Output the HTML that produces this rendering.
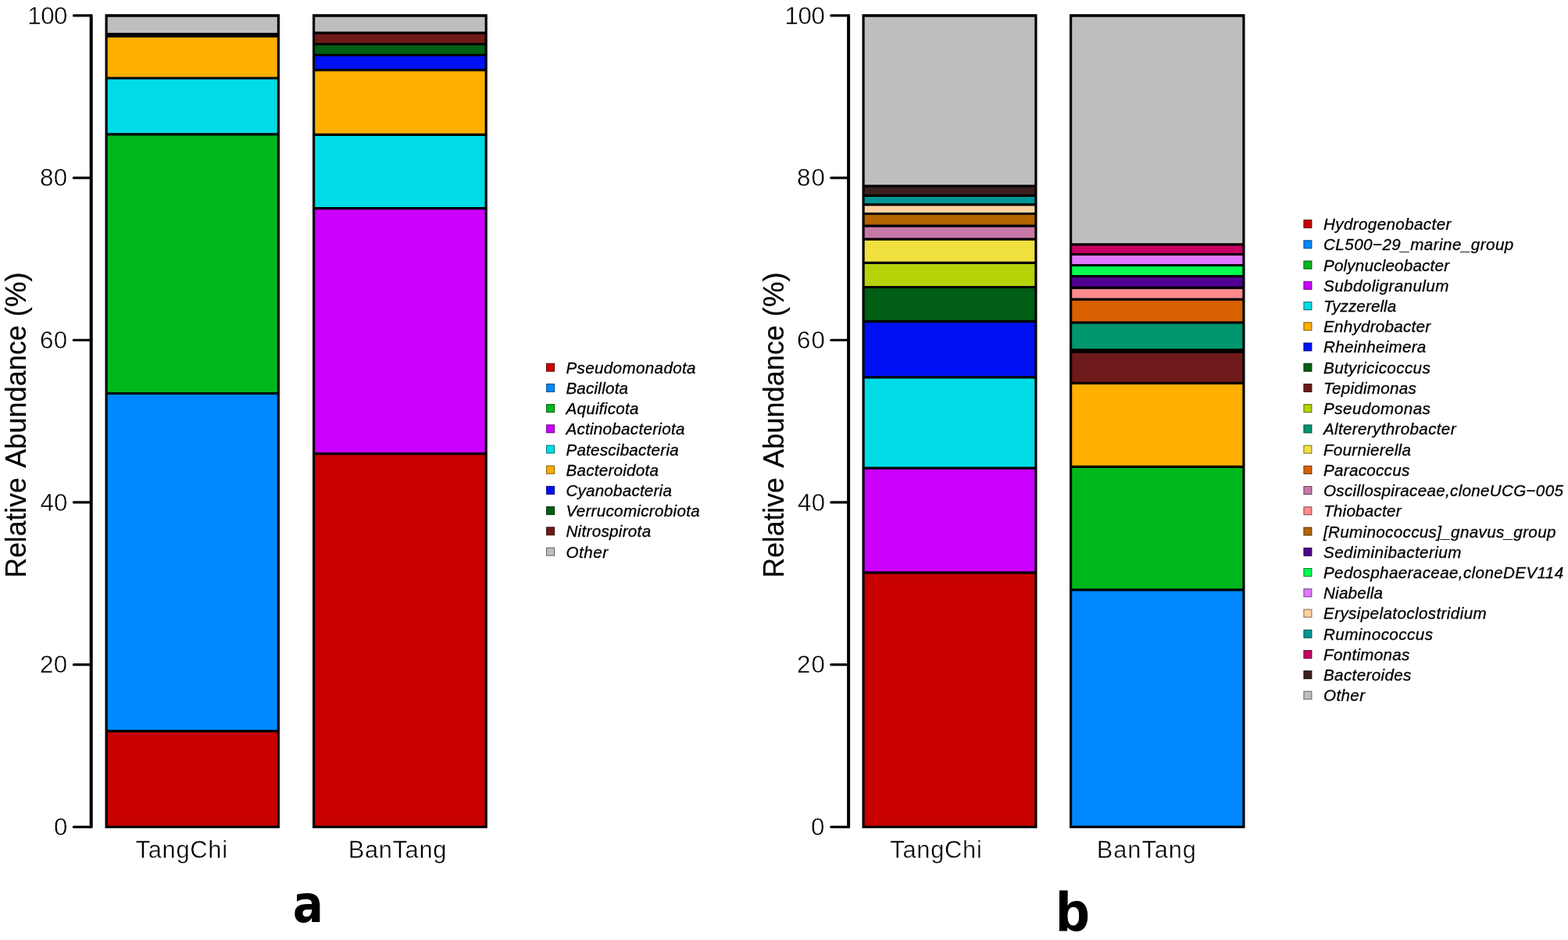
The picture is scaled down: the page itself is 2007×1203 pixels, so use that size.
<!DOCTYPE html>
<html lang="en">
<head>
<meta charset="utf-8">
<title>Relative abundance of bacterial phyla and genera in TangChi and BanTang</title>
<style>
html,body{margin:0;padding:0;background:#fff;}
body{width:2007px;height:1203px;overflow:hidden;}
svg{display:block;}
text{font-family:"Liberation Sans", Arial, Helvetica, sans-serif;fill:#000;}
.tk{font-size:31.3px;paint-order:fill stroke;stroke:#fff;stroke-width:0.4px;}
.xl{font-size:30.8px;paint-order:fill stroke;stroke:#fff;stroke-width:0.4px;}
.yl{font-size:37.7px;stroke:#000;stroke-width:0.2px;}
.lg{font-size:20.6px;font-style:italic;stroke:#000;stroke-width:0.3px;}
.pn{font-weight:bold;stroke:#000;stroke-width:1px;stroke-linejoin:round;}
.seg{stroke:#000;stroke-width:3.2;stroke-linejoin:miter;stroke-linecap:butt;fill:none;}
.ax{stroke:#000;fill:none;stroke-linecap:round;stroke-linejoin:round;}
</style>
</head>
<body>
<svg width="2007" height="1203" viewBox="0 0 2007 1203">
<rect x="0" y="0" width="2007" height="1203" fill="#ffffff"/>

<g id="bar1">
<rect x="136.10" y="935.70" width="220.30" height="122.60" fill="#C80000"/>
<rect x="136.10" y="503.50" width="220.30" height="432.20" fill="#0088FF"/>
<rect x="136.10" y="171.90" width="220.30" height="331.60" fill="#00B81C"/>
<rect x="136.10" y="100.00" width="220.30" height="71.90" fill="#00DCE6"/>
<rect x="136.10" y="46.40" width="220.30" height="53.60" fill="#FFB000"/>
<rect x="136.10" y="43.60" width="220.30" height="2.80" fill="#0010F5"/>
<rect x="136.10" y="19.90" width="220.30" height="23.70" fill="#BEBEBE"/>
<line class="seg" x1="136.10" y1="935.70" x2="356.40" y2="935.70"/>
<line class="seg" x1="136.10" y1="503.50" x2="356.40" y2="503.50"/>
<line class="seg" x1="136.10" y1="171.90" x2="356.40" y2="171.90"/>
<line class="seg" x1="136.10" y1="100.00" x2="356.40" y2="100.00"/>
<line class="seg" x1="136.10" y1="46.40" x2="356.40" y2="46.40"/>
<line class="seg" x1="136.10" y1="43.60" x2="356.40" y2="43.60"/>
<rect class="seg" x="136.10" y="19.90" width="220.30" height="1038.40" stroke-linejoin="round"/>
<line class="seg" x1="135.30" y1="20.00" x2="357.20" y2="20.00" stroke-width="3.9"/>
</g>
<g id="bar2">
<rect x="401.60" y="580.60" width="220.60" height="477.70" fill="#C80000"/>
<rect x="401.60" y="266.70" width="220.60" height="313.90" fill="#CC00FF"/>
<rect x="401.60" y="172.30" width="220.60" height="94.40" fill="#00DCE6"/>
<rect x="401.60" y="89.70" width="220.60" height="82.60" fill="#FFB000"/>
<rect x="401.60" y="70.50" width="220.60" height="19.20" fill="#0010F5"/>
<rect x="401.60" y="56.50" width="220.60" height="14.00" fill="#005F14"/>
<rect x="401.60" y="42.20" width="220.60" height="14.30" fill="#6E1A1A"/>
<rect x="401.60" y="19.90" width="220.60" height="22.30" fill="#BEBEBE"/>
<line class="seg" x1="401.60" y1="580.60" x2="622.20" y2="580.60"/>
<line class="seg" x1="401.60" y1="266.70" x2="622.20" y2="266.70"/>
<line class="seg" x1="401.60" y1="172.30" x2="622.20" y2="172.30"/>
<line class="seg" x1="401.60" y1="89.70" x2="622.20" y2="89.70"/>
<line class="seg" x1="401.60" y1="70.50" x2="622.20" y2="70.50"/>
<line class="seg" x1="401.60" y1="56.50" x2="622.20" y2="56.50"/>
<line class="seg" x1="401.60" y1="42.20" x2="622.20" y2="42.20"/>
<rect class="seg" x="401.60" y="19.90" width="220.60" height="1038.40" stroke-linejoin="round"/>
<line class="seg" x1="400.80" y1="20.00" x2="623.00" y2="20.00" stroke-width="3.9"/>
</g>
<g id="bar3">
<rect x="1105.10" y="732.80" width="220.80" height="325.50" fill="#C80000"/>
<rect x="1105.10" y="599.20" width="220.80" height="133.60" fill="#CC00FF"/>
<rect x="1105.10" y="482.90" width="220.80" height="116.30" fill="#00DCE6"/>
<rect x="1105.10" y="411.40" width="220.80" height="71.50" fill="#0010F5"/>
<rect x="1105.10" y="367.50" width="220.80" height="43.90" fill="#005F14"/>
<rect x="1105.10" y="336.30" width="220.80" height="31.20" fill="#B8D20A"/>
<rect x="1105.10" y="306.10" width="220.80" height="30.20" fill="#F0E040"/>
<rect x="1105.10" y="289.10" width="220.80" height="17.00" fill="#C878A8"/>
<rect x="1105.10" y="273.50" width="220.80" height="15.60" fill="#B46400"/>
<rect x="1105.10" y="261.90" width="220.80" height="11.60" fill="#FFD2A0"/>
<rect x="1105.10" y="250.40" width="220.80" height="11.50" fill="#009696"/>
<rect x="1105.10" y="238.20" width="220.80" height="12.20" fill="#3C2020"/>
<rect x="1105.10" y="19.90" width="220.80" height="218.30" fill="#BEBEBE"/>
<line class="seg" x1="1105.10" y1="732.80" x2="1325.90" y2="732.80"/>
<line class="seg" x1="1105.10" y1="599.20" x2="1325.90" y2="599.20"/>
<line class="seg" x1="1105.10" y1="482.90" x2="1325.90" y2="482.90"/>
<line class="seg" x1="1105.10" y1="411.40" x2="1325.90" y2="411.40"/>
<line class="seg" x1="1105.10" y1="367.50" x2="1325.90" y2="367.50"/>
<line class="seg" x1="1105.10" y1="336.30" x2="1325.90" y2="336.30"/>
<line class="seg" x1="1105.10" y1="306.10" x2="1325.90" y2="306.10"/>
<line class="seg" x1="1105.10" y1="289.10" x2="1325.90" y2="289.10"/>
<line class="seg" x1="1105.10" y1="273.50" x2="1325.90" y2="273.50"/>
<line class="seg" x1="1105.10" y1="261.90" x2="1325.90" y2="261.90"/>
<line class="seg" x1="1105.10" y1="250.40" x2="1325.90" y2="250.40"/>
<line class="seg" x1="1105.10" y1="238.20" x2="1325.90" y2="238.20"/>
<rect class="seg" x="1105.10" y="19.90" width="220.80" height="1038.40" stroke-linejoin="round"/>
<line class="seg" x1="1104.30" y1="20.00" x2="1326.70" y2="20.00" stroke-width="3.9"/>
</g>
<g id="bar4">
<rect x="1370.60" y="754.90" width="221.30" height="303.40" fill="#0088FF"/>
<rect x="1370.60" y="597.40" width="221.30" height="157.50" fill="#00B81C"/>
<rect x="1370.60" y="490.30" width="221.30" height="107.10" fill="#FFB000"/>
<rect x="1370.60" y="450.40" width="221.30" height="39.90" fill="#6E1A1A"/>
<rect x="1370.60" y="447.80" width="221.30" height="2.60" fill="#3C2020"/>
<rect x="1370.60" y="412.80" width="221.30" height="35.00" fill="#00966E"/>
<rect x="1370.60" y="383.10" width="221.30" height="29.70" fill="#D86000"/>
<rect x="1370.60" y="368.30" width="221.30" height="14.80" fill="#FF8C8C"/>
<rect x="1370.60" y="353.50" width="221.30" height="14.80" fill="#500090"/>
<rect x="1370.60" y="339.50" width="221.30" height="14.00" fill="#00FF50"/>
<rect x="1370.60" y="325.50" width="221.30" height="14.00" fill="#E078FF"/>
<rect x="1370.60" y="312.80" width="221.30" height="12.70" fill="#C80064"/>
<rect x="1370.60" y="19.90" width="221.30" height="292.90" fill="#BEBEBE"/>
<line class="seg" x1="1370.60" y1="754.90" x2="1591.90" y2="754.90"/>
<line class="seg" x1="1370.60" y1="597.40" x2="1591.90" y2="597.40"/>
<line class="seg" x1="1370.60" y1="490.30" x2="1591.90" y2="490.30"/>
<line class="seg" x1="1370.60" y1="450.40" x2="1591.90" y2="450.40"/>
<line class="seg" x1="1370.60" y1="447.80" x2="1591.90" y2="447.80"/>
<line class="seg" x1="1370.60" y1="412.80" x2="1591.90" y2="412.80"/>
<line class="seg" x1="1370.60" y1="383.10" x2="1591.90" y2="383.10"/>
<line class="seg" x1="1370.60" y1="368.30" x2="1591.90" y2="368.30"/>
<line class="seg" x1="1370.60" y1="353.50" x2="1591.90" y2="353.50"/>
<line class="seg" x1="1370.60" y1="339.50" x2="1591.90" y2="339.50"/>
<line class="seg" x1="1370.60" y1="325.50" x2="1591.90" y2="325.50"/>
<line class="seg" x1="1370.60" y1="312.80" x2="1591.90" y2="312.80"/>
<rect class="seg" x="1370.60" y="19.90" width="221.30" height="1038.40" stroke-linejoin="round"/>
<line class="seg" x1="1369.80" y1="20.00" x2="1592.70" y2="20.00" stroke-width="3.9"/>
</g>
<g id="axis1">
<line class="ax" x1="116.7" y1="19.9" x2="116.7" y2="1058.3" stroke-width="4.0"/>
<line class="ax" x1="94.4" y1="1058.30" x2="116.7" y2="1058.30" stroke-width="3.2"/>
<text class="tk" id="tk0_0" x="68.96" y="1068.90">0</text>
<line class="ax" x1="94.4" y1="850.62" x2="116.7" y2="850.62" stroke-width="3.2"/>
<text class="tk" id="tk0_20" x="51.04" y="861.22" textLength="35.09" lengthAdjust="spacing">20</text>
<line class="ax" x1="94.4" y1="642.94" x2="116.7" y2="642.94" stroke-width="3.2"/>
<text class="tk" id="tk0_40" x="51.44" y="653.54" textLength="35.09" lengthAdjust="spacing">40</text>
<line class="ax" x1="94.4" y1="435.26" x2="116.7" y2="435.26" stroke-width="3.2"/>
<text class="tk" id="tk0_60" x="51.04" y="445.86" textLength="35.09" lengthAdjust="spacing">60</text>
<line class="ax" x1="94.4" y1="227.58" x2="116.7" y2="227.58" stroke-width="3.2"/>
<text class="tk" id="tk0_80" x="51.04" y="238.18" textLength="35.09" lengthAdjust="spacing">80</text>
<line class="ax" x1="94.4" y1="19.90" x2="116.7" y2="19.90" stroke-width="3.2"/>
<text class="tk" id="tk0_100" x="35.26" y="30.50" textLength="51.20" lengthAdjust="spacing">100</text>
</g>
<g id="axis2">
<line class="ax" x1="1086.1" y1="19.9" x2="1086.1" y2="1058.3" stroke-width="4.0"/>
<line class="ax" x1="1063.8" y1="1058.30" x2="1086.1" y2="1058.30" stroke-width="3.2"/>
<text class="tk" id="tk1_0" x="1037.90" y="1068.90">0</text>
<line class="ax" x1="1063.8" y1="850.62" x2="1086.1" y2="850.62" stroke-width="3.2"/>
<text class="tk" id="tk1_20" x="1019.98" y="861.22" textLength="35.89" lengthAdjust="spacing">20</text>
<line class="ax" x1="1063.8" y1="642.94" x2="1086.1" y2="642.94" stroke-width="3.2"/>
<text class="tk" id="tk1_40" x="1020.98" y="653.54" textLength="35.09" lengthAdjust="spacing">40</text>
<line class="ax" x1="1063.8" y1="435.26" x2="1086.1" y2="435.26" stroke-width="3.2"/>
<text class="tk" id="tk1_60" x="1019.98" y="445.86" textLength="35.89" lengthAdjust="spacing">60</text>
<line class="ax" x1="1063.8" y1="227.58" x2="1086.1" y2="227.58" stroke-width="3.2"/>
<text class="tk" id="tk1_80" x="1019.98" y="238.18" textLength="35.89" lengthAdjust="spacing">80</text>
<line class="ax" x1="1063.8" y1="19.90" x2="1086.1" y2="19.90" stroke-width="3.2"/>
<text class="tk" id="tk1_100" x="1004.60" y="30.50" textLength="51.20" lengthAdjust="spacing">100</text>
</g>
<text class="yl" transform="translate(33.3,737.6) rotate(-90)"><tspan id="yl0_0" x="-1.86" textLength="128.10" lengthAdjust="spacingAndGlyphs">Relative</tspan> <tspan id="yl0_1" x="138.90" textLength="182.65" lengthAdjust="spacingAndGlyphs">Abundance</tspan> <tspan id="yl0_2" x="332.34" textLength="57.00" lengthAdjust="spacingAndGlyphs">(%)</tspan></text>
<text class="yl" transform="translate(1002.8,737.6) rotate(-90)"><tspan id="yl1_0" x="-1.86" textLength="128.10" lengthAdjust="spacingAndGlyphs">Relative</tspan> <tspan id="yl1_1" x="138.90" textLength="182.65" lengthAdjust="spacingAndGlyphs">Abundance</tspan> <tspan id="yl1_2" x="332.34" textLength="57.00" lengthAdjust="spacingAndGlyphs">(%)</tspan></text>
<text class="xl" id="xl0" x="173.52" y="1097.9" textLength="117.57" lengthAdjust="spacing">TangChi</text>
<text class="xl" id="xl1" x="445.80" y="1097.9" textLength="125.54" lengthAdjust="spacing">BanTang</text>
<text class="xl" id="xl2" x="1139.32" y="1097.9" textLength="117.41" lengthAdjust="spacing">TangChi</text>
<text class="xl" id="xl3" x="1403.80" y="1097.9" textLength="127.17" lengthAdjust="spacing">BanTang</text>
<g id="ll">
<rect x="699.60" y="465.20" width="10" height="10" fill="#C80000" stroke="#640000" stroke-width="1"/>
<text class="lg" id="ll0" x="724.40" y="477.70" textLength="166.17" lengthAdjust="spacing">Pseudomonadota</text>
<rect x="699.60" y="491.40" width="10" height="10" fill="#0088FF" stroke="#00447F" stroke-width="1"/>
<text class="lg" id="ll1" x="724.40" y="503.90" textLength="79.67" lengthAdjust="spacing">Bacillota</text>
<rect x="699.60" y="517.60" width="10" height="10" fill="#00B81C" stroke="#005C0E" stroke-width="1"/>
<text class="lg" id="ll2" x="724.40" y="530.10" textLength="93.10" lengthAdjust="spacing">Aquificota</text>
<rect x="699.60" y="543.80" width="10" height="10" fill="#CC00FF" stroke="#66007F" stroke-width="1"/>
<text class="lg" id="ll3" x="724.40" y="556.30" textLength="152.02" lengthAdjust="spacing">Actinobacteriota</text>
<rect x="699.60" y="570.00" width="10" height="10" fill="#00DCE6" stroke="#006E73" stroke-width="1"/>
<text class="lg" id="ll4" x="724.40" y="582.50" textLength="144.26" lengthAdjust="spacing">Patescibacteria</text>
<rect x="699.60" y="596.20" width="10" height="10" fill="#FFB000" stroke="#7F5800" stroke-width="1"/>
<text class="lg" id="ll5" x="724.40" y="608.70" textLength="118.65" lengthAdjust="spacing">Bacteroidota</text>
<rect x="699.60" y="622.40" width="10" height="10" fill="#0010F5" stroke="#00087A" stroke-width="1"/>
<text class="lg" id="ll6" x="724.40" y="634.90" textLength="135.48" lengthAdjust="spacing">Cyanobacteria</text>
<rect x="699.60" y="648.60" width="10" height="10" fill="#005F14" stroke="#002F0A" stroke-width="1"/>
<text class="lg" id="ll7" x="724.40" y="661.10" textLength="171.25" lengthAdjust="spacing">Verrucomicrobiota</text>
<rect x="699.60" y="674.80" width="10" height="10" fill="#6E1A1A" stroke="#370D0D" stroke-width="1"/>
<text class="lg" id="ll8" x="724.40" y="687.30" textLength="108.72" lengthAdjust="spacing">Nitrospirota</text>
<rect x="699.60" y="701.00" width="10" height="10" fill="#BEBEBE" stroke="#5F5F5F" stroke-width="1"/>
<text class="lg" id="ll9" x="724.40" y="713.50" textLength="53.82" lengthAdjust="spacing">Other</text>
</g>
<g id="lr">
<rect x="1668.90" y="281.60" width="10" height="10" fill="#C80000" stroke="#640000" stroke-width="1"/>
<text class="lg" id="lr0" x="1694.00" y="294.10" textLength="163.34" lengthAdjust="spacing">Hydrogenobacter</text>
<rect x="1668.90" y="307.83" width="10" height="10" fill="#0088FF" stroke="#00447F" stroke-width="1"/>
<text class="lg" id="lr1" x="1694.00" y="320.33" textLength="243.29" lengthAdjust="spacing">CL500−29_marine_group</text>
<rect x="1668.90" y="334.06" width="10" height="10" fill="#00B81C" stroke="#005C0E" stroke-width="1"/>
<text class="lg" id="lr2" x="1694.00" y="346.56" textLength="161.01" lengthAdjust="spacing">Polynucleobacter</text>
<rect x="1668.90" y="360.29" width="10" height="10" fill="#CC00FF" stroke="#66007F" stroke-width="1"/>
<text class="lg" id="lr3" x="1694.00" y="372.79" textLength="160.33" lengthAdjust="spacing">Subdoligranulum</text>
<rect x="1668.90" y="386.52" width="10" height="10" fill="#00DCE6" stroke="#006E73" stroke-width="1"/>
<text class="lg" id="lr4" x="1694.00" y="399.02" textLength="93.27" lengthAdjust="spacing">Tyzzerella</text>
<rect x="1668.90" y="412.75" width="10" height="10" fill="#FFB000" stroke="#7F5800" stroke-width="1"/>
<text class="lg" id="lr5" x="1694.00" y="425.25" textLength="137.20" lengthAdjust="spacing">Enhydrobacter</text>
<rect x="1668.90" y="438.98" width="10" height="10" fill="#0010F5" stroke="#00087A" stroke-width="1"/>
<text class="lg" id="lr6" x="1694.00" y="451.48" textLength="131.32" lengthAdjust="spacing">Rheinheimera</text>
<rect x="1668.90" y="465.21" width="10" height="10" fill="#005F14" stroke="#002F0A" stroke-width="1"/>
<text class="lg" id="lr7" x="1694.00" y="477.71" textLength="136.74" lengthAdjust="spacing">Butyricicoccus</text>
<rect x="1668.90" y="491.44" width="10" height="10" fill="#6E1A1A" stroke="#370D0D" stroke-width="1"/>
<text class="lg" id="lr8" x="1694.00" y="503.94" textLength="118.74" lengthAdjust="spacing">Tepidimonas</text>
<rect x="1668.90" y="517.67" width="10" height="10" fill="#B8D20A" stroke="#5C6905" stroke-width="1"/>
<text class="lg" id="lr9" x="1694.00" y="530.17" textLength="136.91" lengthAdjust="spacing">Pseudomonas</text>
<rect x="1668.90" y="543.90" width="10" height="10" fill="#00966E" stroke="#004B37" stroke-width="1"/>
<text class="lg" id="lr10" x="1694.00" y="556.40" textLength="169.49" lengthAdjust="spacing">Altererythrobacter</text>
<rect x="1668.90" y="570.13" width="10" height="10" fill="#F0E040" stroke="#787020" stroke-width="1"/>
<text class="lg" id="lr11" x="1694.00" y="582.63" textLength="111.94" lengthAdjust="spacing">Fournierella</text>
<rect x="1668.90" y="596.36" width="10" height="10" fill="#D86000" stroke="#6C3000" stroke-width="1"/>
<text class="lg" id="lr12" x="1694.00" y="608.86" textLength="110.25" lengthAdjust="spacing">Paracoccus</text>
<rect x="1668.90" y="622.59" width="10" height="10" fill="#C878A8" stroke="#643C54" stroke-width="1"/>
<text class="lg" id="lr13" x="1694.00" y="635.09" textLength="306.87" lengthAdjust="spacing">Oscillospiraceae,cloneUCG−005</text>
<rect x="1668.90" y="648.82" width="10" height="10" fill="#FF8C8C" stroke="#7F4646" stroke-width="1"/>
<text class="lg" id="lr14" x="1694.00" y="661.32" textLength="99.62" lengthAdjust="spacing">Thiobacter</text>
<rect x="1668.90" y="675.05" width="10" height="10" fill="#B46400" stroke="#5A3200" stroke-width="1"/>
<text class="lg" id="lr15" x="1694.00" y="687.55" textLength="297.44" lengthAdjust="spacing">[Ruminococcus]_gnavus_group</text>
<rect x="1668.90" y="701.28" width="10" height="10" fill="#500090" stroke="#280048" stroke-width="1"/>
<text class="lg" id="lr16" x="1694.00" y="713.78" textLength="176.35" lengthAdjust="spacing">Sediminibacterium</text>
<rect x="1668.90" y="727.51" width="10" height="10" fill="#00FF50" stroke="#007F28" stroke-width="1"/>
<text class="lg" id="lr17" x="1694.00" y="740.01" textLength="307.14" lengthAdjust="spacing">Pedosphaeraceae,cloneDEV114</text>
<rect x="1668.90" y="753.74" width="10" height="10" fill="#E078FF" stroke="#703C7F" stroke-width="1"/>
<text class="lg" id="lr18" x="1694.00" y="766.24" textLength="76.00" lengthAdjust="spacing">Niabella</text>
<rect x="1668.90" y="779.97" width="10" height="10" fill="#FFD2A0" stroke="#7F6950" stroke-width="1"/>
<text class="lg" id="lr19" x="1694.00" y="792.47" textLength="208.68" lengthAdjust="spacing">Erysipelatoclostridium</text>
<rect x="1668.90" y="806.20" width="10" height="10" fill="#009696" stroke="#004B4B" stroke-width="1"/>
<text class="lg" id="lr20" x="1694.00" y="818.70" textLength="139.93" lengthAdjust="spacing">Ruminococcus</text>
<rect x="1668.90" y="832.43" width="10" height="10" fill="#C80064" stroke="#640032" stroke-width="1"/>
<text class="lg" id="lr21" x="1694.00" y="844.93" textLength="110.25" lengthAdjust="spacing">Fontimonas</text>
<rect x="1668.90" y="858.66" width="10" height="10" fill="#3C2020" stroke="#1E1010" stroke-width="1"/>
<text class="lg" id="lr22" x="1694.00" y="871.16" textLength="112.31" lengthAdjust="spacing">Bacteroides</text>
<rect x="1668.90" y="884.89" width="10" height="10" fill="#BEBEBE" stroke="#5F5F5F" stroke-width="1"/>
<text class="lg" id="lr23" x="1694.00" y="897.39" textLength="53.04" lengthAdjust="spacing">Other</text>
</g>
<text class="pn" id="pa" transform="translate(374.8,1179.8) scale(0.882,1)" font-size="65.8" style="font-family:'DejaVu Sans','Liberation Sans',sans-serif;stroke:none">a</text>
<text class="pn" id="pb" transform="translate(1351.5,1191.3) scale(1.0035,1)" font-size="70.4">b</text>
</svg>
</body>
</html>
